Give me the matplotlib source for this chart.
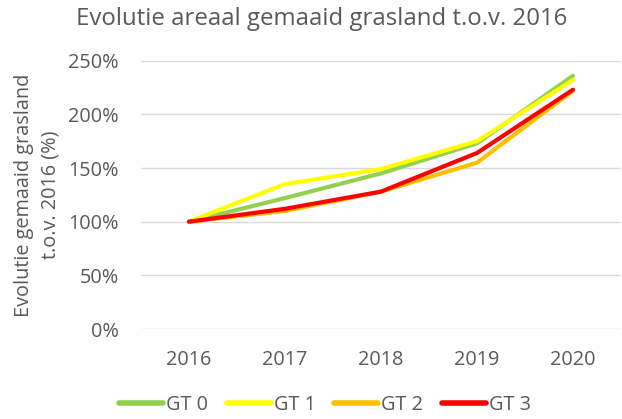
import matplotlib
matplotlib.use("Agg")
import matplotlib.pyplot as plt
from matplotlib.ticker import FuncFormatter

years = ["2016", "2017", "2018", "2019", "2020"]
gt0 = [100, 122, 145, 173, 236]
gt1 = [100, 135, 149, 175, 232]
gt2 = [100, 110, 128, 155, 222]
gt3 = [100, 112, 128, 164, 223]
series_names = ["GT 0", "GT 1", "GT 2", "GT 3"]
colors = ["#92d050", "#ffff00", "#ffc000", "#ff0000"]

plt.rcParams['font.family'] = ['Open Sans', 'DejaVu Sans']
txt = "#595959"
fs = 14.3

fig = plt.figure(figsize=(6.22, 4.19), dpi=100)
ax = fig.add_axes([141/622, 1-329/419, 480/622, (329-60.7)/419])

x = list(range(len(years)))
for vals, name, c in zip([gt0, gt1, gt2, gt3], series_names, colors):
    ax.plot(x, vals, color=c, lw=3, label=name, solid_capstyle='round', solid_joinstyle='round')

ax.set_xlim(-0.5, len(years)-0.5)
ax.set_ylim(0, 250)
ax.set_yticks([0, 50, 100, 150, 200, 250])
ax.yaxis.set_major_formatter(FuncFormatter(lambda v, p: f"{int(v)}%"))
ax.set_xticks(x)
ax.set_xticklabels(years)
ax.grid(axis='y', color='#d9d9d9', lw=1)
ax.set_axisbelow(True)
for s in ax.spines.values():
    s.set_visible(False)
ax.tick_params(axis='both', length=0, labelsize=fs, colors=txt)
ax.tick_params(axis='y', pad=16)
ax.tick_params(axis='x', pad=15)

fig.text(322/622, 1-19/419, "Evolutie areaal gemaaid grasland t.o.v. 2016",
         ha='center', va='center', fontsize=17.3, color=txt)
fig.text(37/622, 1-195/419, "Evolutie gemaaid grasland\nt.o.v. 2016 (%)",
         ha='center', va='center', rotation=90, fontsize=fs, color=txt,
         linespacing=1.45, multialignment='center')

leg = fig.legend(loc='center', bbox_to_anchor=(325/622, 1-405/419), ncol=4,
                 frameon=False, fontsize=fs, handlelength=2.2, handletextpad=0.15,
                 columnspacing=0.95)
for t in leg.get_texts():
    t.set_color(txt)
for l in leg.get_lines():
    l.set_linewidth(4)

fig.savefig("out.png", dpi=100)
